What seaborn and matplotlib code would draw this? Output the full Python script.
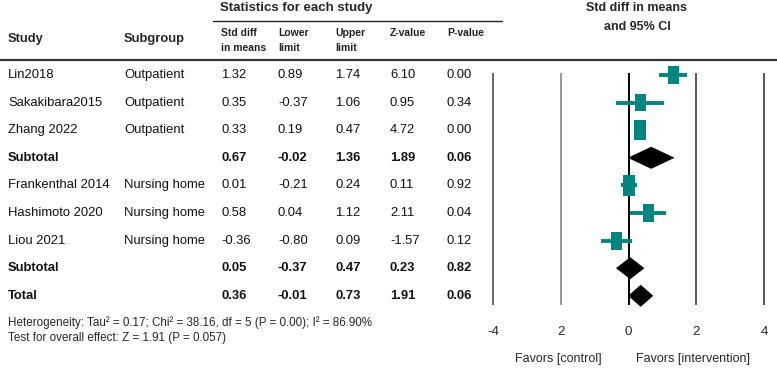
import numpy as np
import matplotlib
matplotlib.use("Agg")
import matplotlib.pyplot as plt
import matplotlib.transforms as mtransforms
from matplotlib.path import Path
from matplotlib.markers import MarkerStyle
import seaborn as sns
import pandas as pd

# ---- data ----
study    = ["Lin2018", "Sakakibara2015", "Zhang 2022", "Subtotal",
            "Frankenthal 2014", "Hashimoto 2020", "Liou 2021", "Subtotal", "Total"]
subgroup = ["Outpatient", "Outpatient", "Outpatient", "",
            "Nursing home", "Nursing home", "Nursing home", "", ""]
kind     = ["study", "study", "study", "pooled",
            "study", "study", "study", "pooled", "pooled"]
smd      = [1.32, 0.35, 0.33, 0.67, 0.01, 0.58, -0.36, 0.05, 0.36]
lower    = [0.89, -0.37, 0.19, -0.02, -0.21, 0.04, -0.80, -0.37, -0.01]
upper    = [1.74, 1.06, 0.47, 1.36, 0.24, 1.12, 0.09, 0.47, 0.73]
zval     = [6.10, 0.95, 4.72, 1.89, 0.11, 2.11, -1.57, 0.23, 1.91]
pval     = [0.00, 0.34, 0.00, 0.06, 0.92, 0.04, 0.12, 0.82, 0.06]
weight   = [16.5, 15.5, 18.0, 0, 18.5, 16.0, 16.0, 0, 0]   # relative box size

xticks      = [-4, -2, 0, 2, 4]
xticklabels = ["-4", "2", "0", "2", "4"]

TEAL = "#008580"
W, H = 777, 369

sns.set_style("white")
plt.rcParams["font.family"] = ["Liberation Sans", "DejaVu Sans"]

fig = plt.figure(figsize=(W / 100, H / 100), dpi=100)

def fx(px):
    return px / W

def fy(py):
    return 1 - py / H

# forest axes: x -4..4 spans px 493..764, rows 0..8 at px 75 + 27.6*i
row_px0, row_step = 75, 27.6
y_top, y_bot = -0.55, 8.5
ax = fig.add_axes([fx(493), fy(row_px0 + row_step * y_bot),
                   fx(764) - fx(493), row_step * (y_bot - y_top) / H])
ax.set_xlim(-4, 4)
ax.set_ylim(y_bot, y_top)
for s in ax.spines.values():
    s.set_visible(False)

line_cols = {-4: "#666666", -2: "#999999", 0: "#000000", 2: "#555555", 4: "#555555"}
for xv in xticks:
    ax.vlines(xv, -0.08, 8.35, color=line_cols[xv], lw=1.4, zorder=1, clip_on=False)

df = pd.DataFrame(dict(study=study, sub=subgroup, kind=kind, smd=smd,
                       lo=lower, hi=upper, z=zval, p=pval, w=weight))
df["row"] = np.arange(len(df))
st = df[df.kind == "study"]
pooled = df[df.kind == "pooled"]

# CI lines
ax.hlines(st.row, st.lo, st.hi, color=TEAL, lw=2.8, zorder=3)

# boxes (taller than wide, as in the reference)
box = MarkerStyle(Path([(-0.3, -0.5), (0.3, -0.5), (0.3, 0.5), (-0.3, 0.5), (-0.3, -0.5)],
                       [Path.MOVETO, Path.LINETO, Path.LINETO, Path.LINETO, Path.CLOSEPOLY]))
sizes = (st.w / 16.5 * 18.5 / 1.389) ** 2
sns.scatterplot(x=st.smd, y=st.row, ax=ax, marker=box, s=sizes.values,
                color=TEAL, edgecolor="none", zorder=4, legend=False)

# pooled diamonds
hh = 0.4
for _, r in pooled.iterrows():
    ax.fill([r.lo, r.smd, r.hi, r.smd], [r.row, r.row - hh, r.row, r.row + hh],
            color="black", zorder=4, lw=0)

ax.set_xticks(xticks)
ax.set_xticklabels(xticklabels, fontsize=9.5)
ax.set_yticks([])
ax.tick_params(axis="x", length=0, pad=12)
ax.set_xlabel("")
ax.set_ylabel("")

# ---- table ----
trans = mtransforms.blended_transform_factory(fig.transFigure, ax.transData)
cols = [("study", 8, "{}"), ("sub", 124, "{}"), ("smd", 221, "{:.2f}"), ("lo", 278, "{:.2f}"),
        ("hi", 335, "{:.2f}"), ("z", 390, "{:.2f}"), ("p", 447, "{:.2f}")]
for _, r in df.iterrows():
    bold = r.kind == "pooled"
    for key, px, fmt in cols:
        txt = fmt.format(r[key])
        if txt == "":
            continue
        ax.text(fx(px), r.row, txt, transform=trans, ha="left", va="center",
                fontsize=9.4, fontweight="bold" if bold else "normal", color="#111111")

# headers
fig.text(fx(220), fy(8), "Statistics for each study", fontsize=9.5, fontweight="bold",
         ha="left", va="center")
fig.add_artist(plt.Line2D([fx(213), fx(502)], [fy(21), fy(21)], color="#222222", lw=1.0))
fig.text(fx(8), fy(39), "Study", fontsize=9.4, fontweight="bold", ha="left", va="center")
fig.text(fx(124), fy(39), "Subgroup", fontsize=9.4, fontweight="bold", ha="left", va="center")
for px, lab in [(221, "Std diff\nin means"), (278, "Lower\nlimit"), (335, "Upper\nlimit"),
                (390, "Z-value"), (447, "P-value")]:
    for k, ln in enumerate(lab.split("\n")):
        fig.text(fx(px), fy(33 + 15 * k), ln, fontsize=7.5, fontweight="bold",
                 ha="left", va="center", color="#222222")
fig.text(fx(637), fy(8), "Std diff in means", fontsize=9, fontweight="bold", ha="center", va="center")
fig.text(fx(637), fy(27), "and 95% CI", fontsize=9, fontweight="bold", ha="center", va="center")
fig.add_artist(plt.Line2D([0, 1], [fy(60), fy(60)], color="#333333", lw=1.6))

# footnotes
fig.text(fx(8), fy(323), "Heterogeneity: Tau\u00b2 = 0.17; Chi\u00b2 = 38.16, df = 5 (P = 0.00); I\u00b2 = 86.90%",
         fontsize=8.4, ha="left", va="center")
fig.text(fx(8), fy(338), "Test for overall effect: Z = 1.91 (P = 0.057)",
         fontsize=8.4, ha="left", va="center")
fig.text(fx(558), fy(359), "Favors [control]", fontsize=9, ha="center", va="center")
fig.text(fx(693), fy(359), "Favors [intervention]", fontsize=9, ha="center", va="center")

fig.savefig("out.png", dpi=100, facecolor="white")
